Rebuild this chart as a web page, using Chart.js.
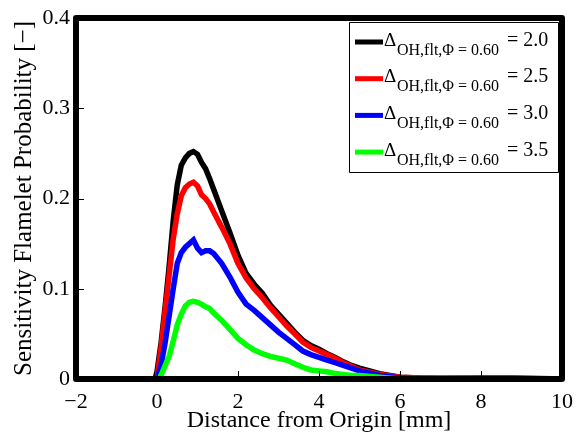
<!DOCTYPE html>
<html><head><meta charset="utf-8">
<script src="https://cdn.jsdelivr.net/npm/chart.js@4"></script>
<style>html,body{margin:0;padding:0;background:#fff}#wrap{width:579px;height:437px;position:relative}</style>
</head><body><div id="wrap"><canvas id="c" width="579" height="437"></canvas></div>
<script>
const xs = [-2,-0.05,0,0.1,0.2,0.3,0.4,0.5,0.6,0.7,0.8,0.9,1.0,1.1,1.2,1.3,1.4,1.6,1.8,2.0,2.2,2.4,2.6,2.8,3.0,3.2,3.4,3.6,3.8,4.0,4.2,4.4,4.6,4.8,5.0,5.5,6.0,6.5,7.0,8.0,8.8,10];
const yDelta20 = [0,0,0.008,0.04,0.08,0.125,0.175,0.215,0.237,0.245,0.25,0.252,0.249,0.24,0.233,0.222,0.21,0.186,0.162,0.137,0.117,0.105,0.095,0.082,0.072,0.062,0.052,0.043,0.037,0.033,0.028,0.024,0.019,0.015,0.012,0.006,0.002,0.001,0.0005,0.0005,0.0005,0];
const yDelta25 = [0,0,0,0.035,0.075,0.115,0.155,0.183,0.203,0.212,0.216,0.218,0.214,0.204,0.2,0.194,0.185,0.168,0.15,0.128,0.112,0.1,0.09,0.079,0.069,0.059,0.05,0.041,0.035,0.031,0.027,0.023,0.018,0.014,0.01,0.005,0.002,0.001,0.001,0.0015,0.0015,0];
const yDelta30 = [0,0,0,0.015,0.04,0.07,0.1,0.128,0.14,0.146,0.15,0.154,0.145,0.14,0.142,0.142,0.139,0.128,0.113,0.096,0.083,0.076,0.068,0.06,0.052,0.045,0.038,0.031,0.027,0.024,0.021,0.018,0.015,0.012,0.009,0.004,0.001,0,0,0,0,0];
const yDelta35 = [0,0,0,0.004,0.015,0.025,0.042,0.06,0.072,0.081,0.085,0.086,0.085,0.083,0.08,0.078,0.073,0.065,0.055,0.045,0.038,0.032,0.028,0.025,0.023,0.021,0.017,0.013,0.01,0.009,0.008,0.006,0.005,0.004,0.004,0.002,0,0,0,0,0,0];
const seriesValues = ['2.0','2.5','3.0','3.5'];
const seriesColors = ['#000000','#ff0000','#0000ff','#00ff00'];
const xTicks = [-2,0,2,4,6,8,10];
const yTicks = [0,0.1,0.2,0.3,0.4];

const ys = [yDelta20,yDelta25,yDelta30,yDelta35];
const datasets = ys.map((arr,i)=>({
  label: 'Δ OH,flt,Φ = 0.60 = ' + seriesValues[i],
  data: xs.map((x,j)=>({x:x,y:arr[j]})),
  borderColor: seriesColors[i],
  borderWidth: 5.5,
  pointRadius: 0,
  tension: 0,
  fill: false,
  order: 4-i
}));

const FONT = '"Liberation Serif","Times New Roman",serif';

const framePlugin = {
  id:'frame',
  afterDraw(chart){
    const ctx = chart.ctx, a = chart.chartArea;
    const xs_ = chart.scales.x, ys_ = chart.scales.y;
    ctx.save();
    ctx.strokeStyle = '#000'; ctx.lineWidth = 1;
    xTicks.forEach(t=>{ const px = Math.round(xs_.getPixelForValue(t))+0.5;
      ctx.beginPath(); ctx.moveTo(px,a.bottom); ctx.lineTo(px,a.bottom-8); ctx.stroke(); });
    yTicks.forEach(t=>{ const py = Math.round(ys_.getPixelForValue(t))+0.5;
      ctx.beginPath(); ctx.moveTo(a.left,py); ctx.lineTo(a.left+8,py); ctx.stroke(); });
    ctx.lineWidth = 6; ctx.lineJoin='round';
    ctx.strokeRect(a.left, a.top, a.right-a.left, a.bottom-a.top);
    const bx=349, by=22, bw=209, bh=150;
    ctx.fillStyle='#fff'; ctx.fillRect(bx,by,bw,bh);
    ctx.lineWidth=1; ctx.strokeStyle='#000'; ctx.strokeRect(bx+0.5,by+0.5,bw,bh);
    chart.data.datasets.forEach((ds,i)=>{
      const cy = 42 + i*36.7;
      ctx.strokeStyle = ds.borderColor; ctx.lineWidth = 5; ctx.lineCap='butt';
      ctx.beginPath(); ctx.moveTo(355,cy); ctx.lineTo(383,cy); ctx.stroke();
      ctx.fillStyle='#000'; ctx.textBaseline='alphabetic'; ctx.textAlign='left';
      const base = cy+3.5;
      ctx.font = '19px '+FONT;
      ctx.fillText('Δ',384,base);
      ctx.font = '16px '+FONT;
      ctx.fillText('OH,flt,Φ = 0.60',397,base+9);
      ctx.font = '20px '+FONT;
      ctx.fillText('= '+seriesValues[i],507,base);
    });
    ctx.restore();
  }
};

new Chart(document.getElementById('c'),{
  type:'line',
  data:{datasets},
  options:{
    responsive:false, animation:false, devicePixelRatio:1,
    layout:{padding:{top:18,right:17,left:0,bottom:0}},
    plugins:{legend:{display:false},tooltip:{enabled:false}},
    scales:{
      x:{type:'linear',min:-2,max:10,
        afterBuildTicks(s){ s.ticks = xTicks.map(v=>({value:v})); },
        afterFit(s){ s.height = 58; },
        grid:{display:false},
        border:{display:false},
        ticks:{color:'#000',font:{family:FONT,size:22},padding:2,
          callback:v=>String(v).replace('-','\u2212'), maxRotation:0},
        title:{display:true,text:'Distance from Origin [mm]',color:'#000',font:{family:FONT,size:24},padding:{top:0,bottom:2}}
      },
      y:{type:'linear',min:0,max:0.4,
        afterBuildTicks(s){ s.ticks = yTicks.map(v=>({value:v})); },
        afterFit(s){ s.width = 76; },
        grid:{display:false},
        border:{display:false},
        ticks:{color:'#000',font:{family:FONT,size:22},padding:-2,callback:v=>String(v)},
        title:{display:true,text:'Sensitivity Flamelet Probability [\u2212]',color:'#000',font:{family:FONT,size:25},padding:{top:9,bottom:0}}
      }
    }
  },
  plugins:[framePlugin]
});
</script></body></html>
